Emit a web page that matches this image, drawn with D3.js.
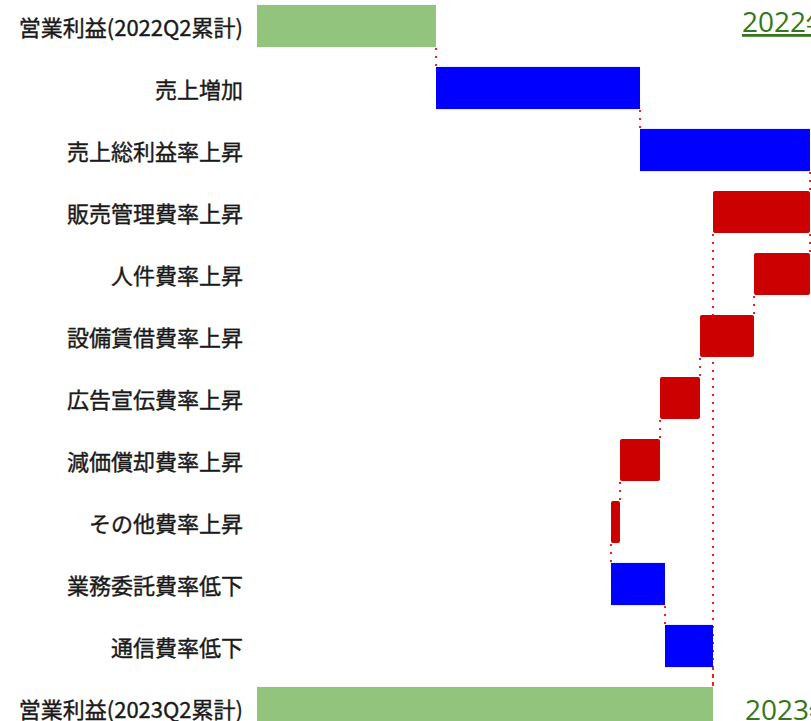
<!DOCTYPE html>
<html><head><meta charset="utf-8">
<script src="https://cdn.jsdelivr.net/npm/d3@7"></script>
<style>html,body{margin:0;padding:0;background:#fff;overflow:hidden}</style>
</head><body>
<svg id="chart" width="811" height="721"></svg>
<script>
// Waterfall data (arbitrary units)
const labels = ["営業利益(2022Q2累計)","売上増加","売上総利益率上昇","販売管理費率上昇","人件費率上昇","設備賃借費率上昇","広告宣伝費率上昇","減価償却費率上昇","その他費率上昇","業務委託費率低下","通信費率低下","営業利益(2023Q2累計)"];
const values = [179, 204, 170, -97, -56, -54, -40, -40, -9, 54, 48, 456];
// total = absolute bar from 0; delta = moves running level; summary = net of the following breakdown (does not move level)
const kinds  = ["total","delta","delta","summary","delta","delta","delta","delta","delta","delta","delta","total"];
const annotations = ["2022年","2023年"];

const colors = {total:"#93c47d", up:"#0000ff", down:"#cc0000", connector:"#ff1a1a", label:"#1a1a1a", note:"#38761d"};

const svg = d3.select("#chart");

// compute bar extents
let level = 0;
const bars = labels.map((lab, i) => {
  const v = values[i], k = kinds[i];
  let s, e;
  if (k === "total") { s = 0; e = v; level = v; }
  else if (k === "summary") { s = level; e = level + v; }
  else { s = level; e = level + v; level = e; }
  return {lab, v, k, s, e, i};
});

const x = d3.scaleLinear().domain([0, 553]).range([257, 810]);
const y = d3.scaleBand().domain(d3.range(labels.length)).range([-5, -5 + 62 * labels.length]).paddingInner(0.32).paddingOuter(0.16);

// connectors
const conn = [];
for (let i = 0; i < bars.length - 1; i++) {
  const nb = bars[i + 1];
  const cx = nb.k === "total" ? nb.e : nb.s;
  conn.push({x: cx, y1: y(i) + y.bandwidth(), y2: y(i + 1)});
}
// net of the summary row down to the final total
bars.forEach(b => {
  if (b.k === "summary") conn.push({x: b.e, y1: y(b.i) + y.bandwidth(), y2: y(bars.length - 1)});
});

svg.append("g").selectAll("line").data(conn).join("line")
  .attr("x1", d => x(d.x)).attr("x2", d => x(d.x))
  .attr("y1", d => d.y1 + 1).attr("y2", d => d.y2)
  .attr("stroke", colors.connector).attr("stroke-width", 2)
  .attr("stroke-dasharray", "2,6");

svg.append("g").selectAll("rect").data(bars).join("rect")
  .attr("x", d => x(Math.min(d.s, d.e)))
  .attr("width", d => Math.abs(x(d.e) - x(d.s)))
  .attr("y", d => y(d.i)).attr("height", y.bandwidth())
  .attr("rx", d => d.k === "total" ? 0 : (d.v < 0 ? 2 : 0))
  .attr("fill", d => d.k === "total" ? colors.total : (d.v >= 0 ? colors.up : colors.down));

svg.append("g").selectAll("text").data(bars).join("text")
  .attr("x", 243).attr("y", d => y(d.i) + y.bandwidth() / 2)
  .attr("text-anchor", "end").attr("dominant-baseline", "central")
  .attr("font-family", "'Noto Sans CJK JP', 'Noto Sans', sans-serif")
  .attr("font-size", 22).attr("font-weight", 400).attr("fill", colors.label)
  .attr("stroke", colors.label).attr("stroke-width", 0.4)
  .text(d => d.lab);

svg.append("text").attr("x", 742).attr("y", 32)
  .attr("font-family", "'Open Sans', sans-serif").attr("font-size", 28)
  .attr("fill", colors.note).attr("text-decoration", "underline")
  .text(annotations[0]);
svg.append("text").attr("x", 745).attr("y", 720)
  .attr("font-family", "'Open Sans', sans-serif").attr("font-size", 28)
  .attr("fill", colors.note)
  .text(annotations[1]);
</script>
</body></html>
